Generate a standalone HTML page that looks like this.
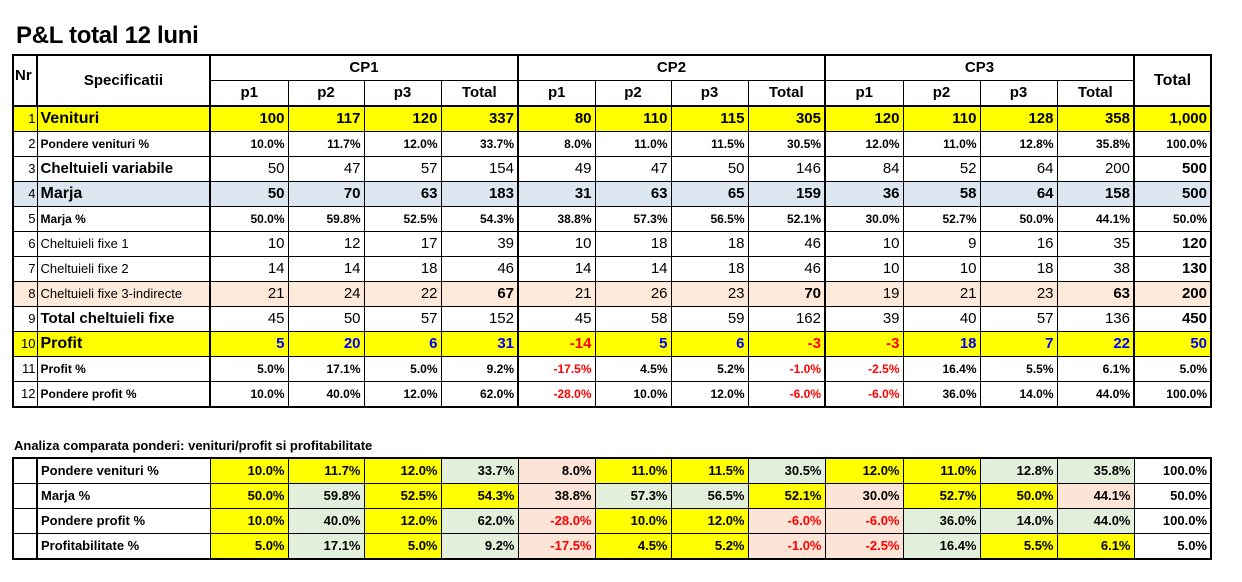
<!DOCTYPE html>
<html><head><meta charset="utf-8"><style>
body{margin:0;background:#fff;font-family:"Liberation Sans",sans-serif;width:1242px;height:582px;overflow:hidden;position:relative}
.title{position:absolute;left:16px;top:22px;font-size:24px;font-weight:bold;letter-spacing:-0.3px}
table{position:absolute;left:12px;border-collapse:collapse;table-layout:fixed}
td{border:1px solid #000;padding:0 3px;white-space:nowrap;overflow:hidden;text-align:right;height:24px;line-height:24px}
#t1{top:54px}
#t1 td{font-size:15px}
.nr{font-size:13px!important;padding:0 1px}
.l{text-align:left}
.c{text-align:center}
.b{font-weight:bold}
.s{font-size:12px!important;font-weight:bold}
.n{font-size:13px!important}
.y td{background:#ffff00}
.bl td{background:#dce6f1}
.o td{background:#fde9d9}
.blue{color:#0000ff}
.red{color:#ff0000}
.g{border-left:2px solid #000}
.h td{font-weight:bold;font-size:13px}
#t2{top:457px}
#t2 td{font-size:13px;font-weight:bold;height:24px}
.Y{background:#ffff00}.G{background:#e2efda}.R{background:#fce4d6}
.sub{position:absolute;left:14px;top:438px;font-size:13px;font-weight:bold}
</style></head><body>
<div class="title">P&amp;L total 12 luni</div>
<table id="t1" style="border:2px solid #000">
<colgroup><col style="width:24px"><col style="width:173px"><col style="width:78px"><col style="width:76px"><col style="width:77px"><col style="width:77px"><col style="width:77px"><col style="width:76px"><col style="width:77px"><col style="width:77px"><col style="width:78px"><col style="width:77px"><col style="width:77px"><col style="width:77px"><col style="width:77px"></colgroup>
<tr class="h"><td rowspan="2" class="l" style="font-size:15px;padding:0 1px;vertical-align:top;line-height:40px">Nr</td><td rowspan="2" class="c" style="font-size:15px;border-left:2px solid #000">Specificatii</td><td colspan="4" class="c g" style="font-size:15px;height:24px">CP1</td><td colspan="4" class="c g" style="font-size:15px">CP2</td><td colspan="4" class="c g" style="font-size:15px">CP3</td><td rowspan="2" class="c g" style="font-size:16px">Total</td></tr>
<tr class="h" style="border-bottom:2px solid #000"><td class="c g" style="height:22px;line-height:22px">p1</td><td class="c">p2</td><td class="c">p3</td><td class="c">Total</td><td class="c g">p1</td><td class="c">p2</td><td class="c">p3</td><td class="c">Total</td><td class="c g">p1</td><td class="c">p2</td><td class="c">p3</td><td class="c">Total</td></tr>
<tr class="y b"><td class="nr" style="font-weight:normal">1</td><td class="l" style="font-size:16px">Venituri</td><td class="g">100</td><td>117</td><td>120</td><td>337</td><td class="g">80</td><td>110</td><td>115</td><td>305</td><td class="g">120</td><td>110</td><td>128</td><td>358</td><td class="g">1,000</td></tr>
<tr><td class="nr">2</td><td class="l s">Pondere venituri %</td><td class="s g">10.0%</td><td class="s">11.7%</td><td class="s">12.0%</td><td class="s">33.7%</td><td class="s g">8.0%</td><td class="s">11.0%</td><td class="s">11.5%</td><td class="s">30.5%</td><td class="s g">12.0%</td><td class="s">11.0%</td><td class="s">12.8%</td><td class="s">35.8%</td><td class="s g">100.0%</td></tr>
<tr><td class="nr">3</td><td class="l b">Cheltuieli variabile</td><td class="g">50</td><td>47</td><td>57</td><td>154</td><td class="g">49</td><td>47</td><td>50</td><td>146</td><td class="g">84</td><td>52</td><td>64</td><td>200</td><td class="g b">500</td></tr>
<tr class="bl b"><td class="nr" style="font-weight:normal">4</td><td class="l" style="font-size:16px">Marja</td><td class="g">50</td><td>70</td><td>63</td><td>183</td><td class="g">31</td><td>63</td><td>65</td><td>159</td><td class="g">36</td><td>58</td><td>64</td><td>158</td><td class="g">500</td></tr>
<tr><td class="nr">5</td><td class="l s">Marja %</td><td class="s g">50.0%</td><td class="s">59.8%</td><td class="s">52.5%</td><td class="s">54.3%</td><td class="s g">38.8%</td><td class="s">57.3%</td><td class="s">56.5%</td><td class="s">52.1%</td><td class="s g">30.0%</td><td class="s">52.7%</td><td class="s">50.0%</td><td class="s">44.1%</td><td class="s g">50.0%</td></tr>
<tr><td class="nr">6</td><td class="l n">Cheltuieli fixe 1</td><td class="g">10</td><td>12</td><td>17</td><td>39</td><td class="g">10</td><td>18</td><td>18</td><td>46</td><td class="g">10</td><td>9</td><td>16</td><td>35</td><td class="g b">120</td></tr>
<tr><td class="nr">7</td><td class="l n">Cheltuieli fixe 2</td><td class="g">14</td><td>14</td><td>18</td><td>46</td><td class="g">14</td><td>14</td><td>18</td><td>46</td><td class="g">10</td><td>10</td><td>18</td><td>38</td><td class="g b">130</td></tr>
<tr class="o"><td class="nr">8</td><td class="l n">Cheltuieli fixe 3-indirecte</td><td class="g">21</td><td>24</td><td>22</td><td class="b">67</td><td class="g">21</td><td>26</td><td>23</td><td class="b">70</td><td class="g">19</td><td>21</td><td>23</td><td class="b">63</td><td class="g b">200</td></tr>
<tr><td class="nr">9</td><td class="l b">Total cheltuieli fixe</td><td class="g">45</td><td>50</td><td>57</td><td>152</td><td class="g">45</td><td>58</td><td>59</td><td>162</td><td class="g">39</td><td>40</td><td>57</td><td>136</td><td class="g b">450</td></tr>
<tr class="y b"><td class="nr" style="font-weight:normal">10</td><td class="l" style="font-size:16px">Profit</td><td class="g blue">5</td><td class="blue">20</td><td class="blue">6</td><td class="blue">31</td><td class="g red">-14</td><td class="blue">5</td><td class="blue">6</td><td class="red">-3</td><td class="g red">-3</td><td class="blue">18</td><td class="blue">7</td><td class="blue">22</td><td class="g blue">50</td></tr>
<tr><td class="nr">11</td><td class="l s">Profit %</td><td class="s g">5.0%</td><td class="s">17.1%</td><td class="s">5.0%</td><td class="s">9.2%</td><td class="s g red">-17.5%</td><td class="s">4.5%</td><td class="s">5.2%</td><td class="s red">-1.0%</td><td class="s g red">-2.5%</td><td class="s">16.4%</td><td class="s">5.5%</td><td class="s">6.1%</td><td class="s g">5.0%</td></tr>
<tr><td class="nr">12</td><td class="l s">Pondere profit %</td><td class="s g">10.0%</td><td class="s">40.0%</td><td class="s">12.0%</td><td class="s">62.0%</td><td class="s g red">-28.0%</td><td class="s">10.0%</td><td class="s">12.0%</td><td class="s red">-6.0%</td><td class="s g red">-6.0%</td><td class="s">36.0%</td><td class="s">14.0%</td><td class="s">44.0%</td><td class="s g">100.0%</td></tr>
</table>
<div class="sub">Analiza comparata ponderi: venituri/profit si profitabilitate</div>
<table id="t2" style="border:2px solid #000">
<colgroup><col style="width:24px"><col style="width:173px"><col style="width:78px"><col style="width:76px"><col style="width:77px"><col style="width:77px"><col style="width:77px"><col style="width:76px"><col style="width:77px"><col style="width:77px"><col style="width:78px"><col style="width:77px"><col style="width:77px"><col style="width:77px"><col style="width:77px"></colgroup>
<tr><td></td><td class="l" style="border-left:2px solid #000">Pondere venituri %</td><td class="Y">10.0%</td><td class="Y">11.7%</td><td class="Y">12.0%</td><td class="G">33.7%</td><td class="R">8.0%</td><td class="Y">11.0%</td><td class="Y">11.5%</td><td class="G">30.5%</td><td class="Y">12.0%</td><td class="Y">11.0%</td><td class="G">12.8%</td><td class="G">35.8%</td><td>100.0%</td></tr>
<tr><td></td><td class="l" style="border-left:2px solid #000">Marja %</td><td class="Y">50.0%</td><td class="G">59.8%</td><td class="Y">52.5%</td><td class="Y">54.3%</td><td class="R">38.8%</td><td class="G">57.3%</td><td class="G">56.5%</td><td class="Y">52.1%</td><td class="R">30.0%</td><td class="Y">52.7%</td><td class="Y">50.0%</td><td class="R">44.1%</td><td>50.0%</td></tr>
<tr><td></td><td class="l" style="border-left:2px solid #000">Pondere profit %</td><td class="Y">10.0%</td><td class="G">40.0%</td><td class="Y">12.0%</td><td class="G">62.0%</td><td class="R red">-28.0%</td><td class="Y">10.0%</td><td class="Y">12.0%</td><td class="R red">-6.0%</td><td class="R red">-6.0%</td><td class="G">36.0%</td><td class="G">14.0%</td><td class="G">44.0%</td><td>100.0%</td></tr>
<tr><td></td><td class="l" style="border-left:2px solid #000">Profitabilitate %</td><td class="Y">5.0%</td><td class="G">17.1%</td><td class="Y">5.0%</td><td class="G">9.2%</td><td class="R red">-17.5%</td><td class="Y">4.5%</td><td class="Y">5.2%</td><td class="R red">-1.0%</td><td class="R red">-2.5%</td><td class="G">16.4%</td><td class="Y">5.5%</td><td class="Y">6.1%</td><td>5.0%</td></tr>
</table>
</body></html>
